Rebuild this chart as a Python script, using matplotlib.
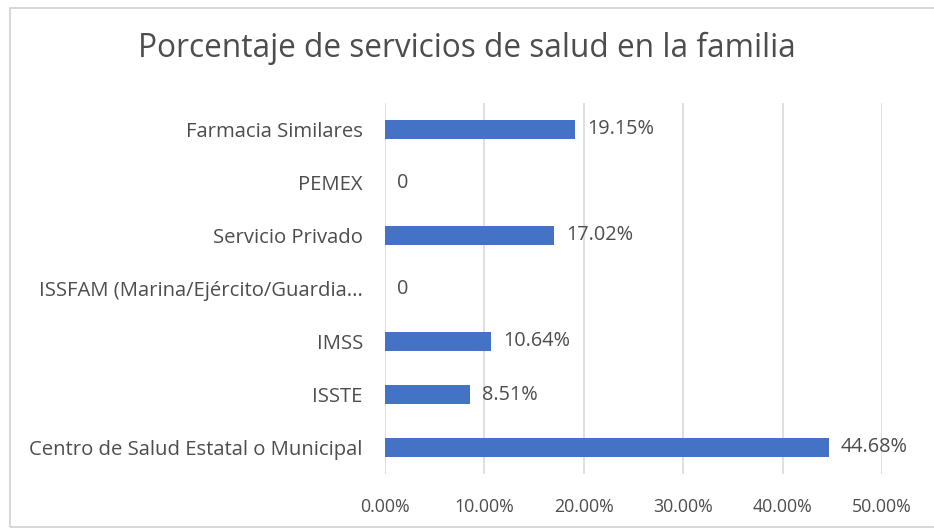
import matplotlib
matplotlib.use("Agg")
import matplotlib.pyplot as plt
from matplotlib.patches import Rectangle

categories = [
    "Centro de Salud Estatal o Municipal",
    "ISSTE",
    "IMSS",
    "ISSFAM (Marina/Ejército/Guardia...",
    "Servicio Privado",
    "PEMEX",
    "Farmacia Similares",
]
values = [44.68, 8.51, 10.64, 0, 17.02, 0, 19.15]
xticks = [0, 10, 20, 30, 40, 50]
title = "Porcentaje de servicios de salud en la familia"

bar_color = "#4472C4"
text_color = "#4D4D4D"
grid_color = "#D9D9D9"

plt.rcParams["font.family"] = ["Open Sans", "DejaVu Sans"]

W, H = 934, 531
fig = plt.figure(figsize=(W / 100, H / 100), dpi=100)

# chart area border
fig.patches.append(Rectangle((10 / W, 4 / H), 1.0, (H - 12) / H, transform=fig.transFigure,
                             fill=False, edgecolor="#D0D0D0", linewidth=1.2))

ax = fig.add_axes([385 / W, 1 - 474 / H, (882 - 385) / W, (474 - 103) / H])
ypos = range(len(categories))
ax.barh(ypos, values, height=0.36, color=bar_color, zorder=3)

for y, v in zip(ypos, values):
    label = "0" if v == 0 else f"{v:.2f}%"
    ax.annotate(label, (v, y), xytext=(12, 0), textcoords="offset pixels",
                va="center", ha="left", fontsize=14.3, color=text_color)

ax.set_xlim(0, 50)
ax.set_ylim(-0.5, len(categories) - 0.5)
ax.set_xticks(xticks)
ax.set_xticklabels([f"{t:.2f}%" for t in xticks], fontsize=12.8, color=text_color)
ax.set_yticks(list(ypos))
ax.set_yticklabels(categories, fontsize=14.6, color=text_color)
ax.tick_params(axis="both", length=0)
ax.tick_params(axis="y", pad=16)
ax.tick_params(axis="x", pad=17)
ax.grid(axis="x", color=grid_color, linewidth=1.2, zorder=0)
for s in ax.spines.values():
    s.set_visible(False)

fig.text(0.5, 1 - 48 / H, title, ha="center", va="center", fontsize=22.8, color=text_color)

fig.savefig("out.png", dpi=100)
